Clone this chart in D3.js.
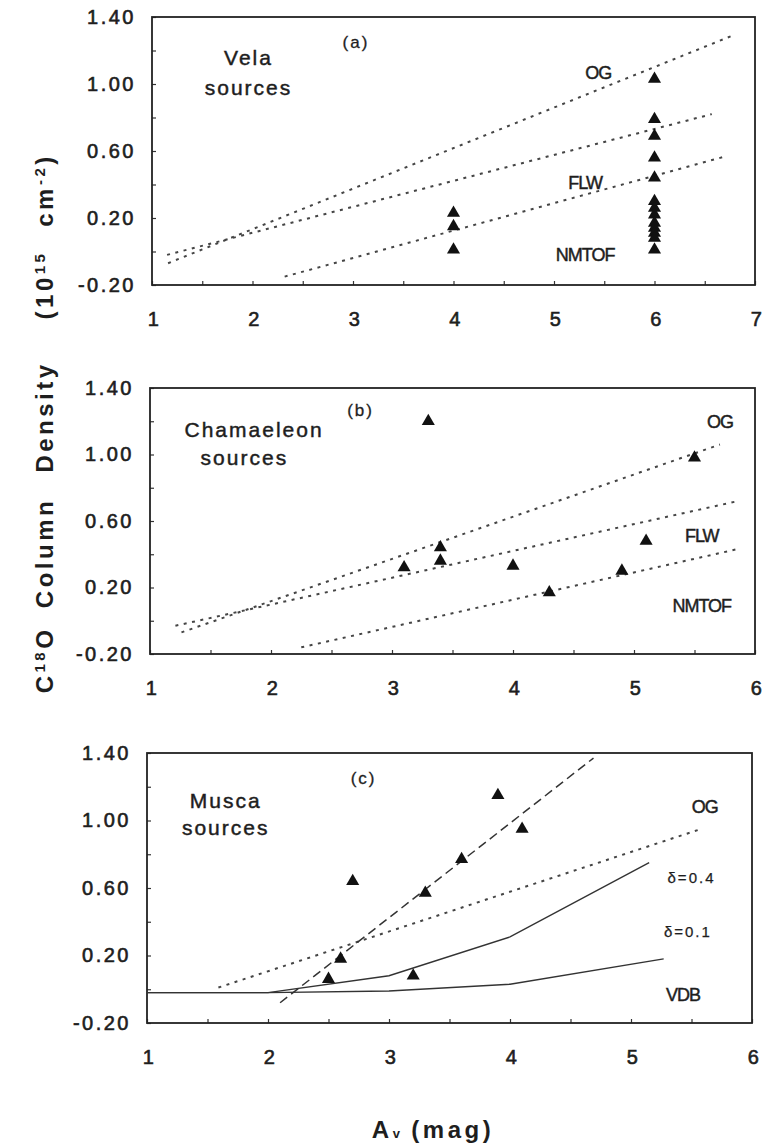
<!DOCTYPE html>
<html>
<head>
<meta charset="utf-8">
<script src="https://cdn.jsdelivr.net/npm/d3@7"></script>
<style>
  body { margin: 0; background: #fff; }
  text { font-family: "Liberation Sans", Arial, sans-serif; fill: #1e1e1e; }
  .tick-label { font-size: 20px; letter-spacing: 2.5px; stroke: #1e1e1e; stroke-width: 0.6px; }
  .tag { font-size: 17px; letter-spacing: 2px; stroke: #1e1e1e; stroke-width: 0.3px; }
  .region { font-size: 21px; letter-spacing: 2px; stroke: #1e1e1e; stroke-width: 0.45px; }
  .model { font-size: 18px; letter-spacing: -1px; stroke: #1e1e1e; stroke-width: 0.45px; }
  .delta { font-size: 15px; letter-spacing: 2px; stroke: #1e1e1e; stroke-width: 0.25px; }
  .axis-title { font-size: 24px; font-weight: bold; letter-spacing: 3.5px; }
</style>
</head>
<body>
<script>
// Define SVG area dimensions
var svgWidth = 767;
var svgHeight = 1145;

// Shared y axis (C18O column density, 1e15 cm-2)
var yTickValues = [-0.2, 0.2, 0.6, 1.0, 1.4];
var yTickLabels = ["-0.20", "0.20", "0.60", "1.00", "1.40"];

// x ticks (Av, mag)
var velaXTicks = [1, 2, 3, 4, 5, 6, 7];
var otherXTicks = [1, 2, 3, 4, 5, 6];

// (a) Vela sources
var velaAv = [4, 4, 4, 6, 6, 6, 6, 6, 6, 6, 6, 6, 6, 6, 6, 6];
var velaN = [0.23, 0.15, 0.01, 1.03, 0.79, 0.69, 0.56, 0.44, 0.30, 0.26, 0.22, 0.17, 0.14, 0.11, 0.08, 0.01];
var velaOGx = [1.16, 6.78], velaOGy = [-0.07, 1.29];
var velaFLWx = [1.15, 6.57], velaFLWy = [-0.02, 0.82];
var velaNMTOFx = [2.32, 6.72], velaNMTOFy = [-0.15, 0.57];

// (b) Chamaeleon sources
var chaAv = [3.1, 3.3, 3.4, 3.4, 4.0, 4.3, 4.9, 5.1, 5.5];
var chaN = [0.32, 1.20, 0.44, 0.36, 0.33, 0.17, 0.30, 0.48, 0.98];
var chaOGx = [1.26, 5.71], chaOGy = [-0.07, 1.06];
var chaFLWx = [1.21, 5.86], chaFLWy = [-0.03, 0.72];
var chaNMTOFx = [2.25, 5.85], chaNMTOFy = [-0.16, 0.43];

// (c) Musca sources
var musAv = [2.5, 2.6, 2.7, 3.2, 3.3, 3.6, 3.9, 4.1];
var musN = [0.06, 0.18, 0.64, 0.08, 0.57, 0.77, 1.15, 0.95];
var musFitx = [2.1, 4.69], musFity = [-0.08, 1.37];
var musOGx = [1.59, 5.58], musOGy = [0.01, 0.95];
var musD04x = [1, 2, 3, 4, 5.15], musD04y = [-0.02, -0.02, 0.08, 0.31, 0.75];
var musD01x = [1, 2, 3, 4, 5.27], musD01y = [-0.02, -0.02, -0.01, 0.03, 0.18];

// Panel layout + what goes in each one
var panels = [
  {
    left: 152, right: 755, top: 17, bottom: 285, xDomain: [1, 7], xTicks: velaXTicks,
    points: d3.zip(velaAv, velaN),
    dotted: [d3.zip(velaOGx, velaOGy), d3.zip(velaFLWx, velaFLWy), d3.zip(velaNMTOFx, velaNMTOFy)],
    dashed: [], solid: [],
    notes: [
      { t: "(a)", x: 3.03, y: 1.25, cls: "tag" },
      { t: "Vela", x: 1.96, y: 1.16, cls: "region" },
      { t: "sources", x: 1.96, y: 0.98, cls: "region" },
      { t: "OG", x: 5.44, y: 1.07, cls: "model" },
      { t: "FLW", x: 5.31, y: 0.41, cls: "model" },
      { t: "NMTOF", x: 5.31, y: -0.02, cls: "model" }
    ]
  },
  {
    left: 150, right: 755, top: 388, bottom: 654, xDomain: [1, 6], xTicks: otherXTicks,
    points: d3.zip(chaAv, chaN),
    dotted: [d3.zip(chaOGx, chaOGy), d3.zip(chaFLWx, chaFLWy), d3.zip(chaNMTOFx, chaNMTOFy)],
    dashed: [], solid: [],
    notes: [
      { t: "(b)", x: 2.74, y: 1.27, cls: "tag" },
      { t: "Chamaeleon", x: 1.86, y: 1.15, cls: "region" },
      { t: "sources", x: 1.78, y: 0.98, cls: "region" },
      { t: "OG", x: 5.71, y: 1.20, cls: "model" },
      { t: "FLW", x: 5.56, y: 0.51, cls: "model" },
      { t: "NMTOF", x: 5.56, y: 0.09, cls: "model" }
    ]
  },
  {
    left: 147, right: 752, top: 753, bottom: 1023, xDomain: [1, 6], xTicks: otherXTicks,
    points: d3.zip(musAv, musN),
    dotted: [d3.zip(musOGx, musOGy)],
    dashed: [d3.zip(musFitx, musFity)],
    solid: [d3.zip(musD04x, musD04y), d3.zip(musD01x, musD01y)],
    notes: [
      { t: "(c)", x: 2.79, y: 1.25, cls: "tag" },
      { t: "Musca", x: 1.65, y: 1.12, cls: "region" },
      { t: "sources", x: 1.65, y: 0.96, cls: "region" },
      { t: "OG", x: 5.61, y: 1.08, cls: "model" },
      { t: "δ=0.4", x: 5.50, y: 0.66, cls: "delta" },
      { t: "δ=0.1", x: 5.47, y: 0.34, cls: "delta" },
      { t: "VDB", x: 5.43, y: -0.03, cls: "model" }
    ]
  }
];

var svg = d3.select("body")
  .append("svg")
  .attr("width", svgWidth)
  .attr("height", svgHeight);

var triangle = d3.symbol().type(d3.symbolTriangle).size(74);

panels.forEach(function(p) {
  var x = d3.scaleLinear().domain(p.xDomain).range([p.left, p.right]);
  var y = d3.scaleLinear().domain([-0.2, 1.4]).range([p.bottom, p.top]);
  var g = svg.append("g");

  // minor inward ticks on left and bottom
  g.append("g")
    .attr("transform", `translate(${p.left},0)`)
    .call(d3.axisLeft(y).tickValues(d3.range(-0.2, 1.41, 0.2)).tickSize(-4).tickFormat(""))
    .call(a => a.select(".domain").remove())
    .selectAll("line").attr("stroke", "#333").attr("stroke-width", 1.2);

  g.append("g")
    .attr("transform", `translate(0,${p.bottom})`)
    .call(d3.axisBottom(x).tickValues(d3.range(p.xDomain[0], p.xDomain[1] + 0.01, 0.5)).tickSize(-4).tickFormat(""))
    .call(a => a.select(".domain").remove())
    .selectAll("line").attr("stroke", "#333").attr("stroke-width", 1.2);

  // tick labels
  g.append("g")
    .attr("transform", `translate(${p.left},0)`)
    .call(d3.axisLeft(y).tickValues(yTickValues).tickFormat((d, i) => yTickLabels[i]).tickSize(0).tickPadding(16))
    .call(a => a.select(".domain").remove())
    .selectAll("text")
    .attr("class", "tick-label");

  g.append("g")
    .attr("transform", `translate(0,${p.bottom})`)
    .call(d3.axisBottom(x).tickValues(p.xTicks).tickFormat(d3.format("d")).tickSize(0).tickPadding(27))
    .call(a => a.select(".domain").remove())
    .selectAll("text")
    .attr("class", "tick-label")
    .attr("dx", "0.1em");

  // frame
  g.append("rect")
    .attr("x", p.left)
    .attr("y", p.top)
    .attr("width", p.right - p.left)
    .attr("height", p.bottom - p.top)
    .attr("fill", "none")
    .attr("stroke", "#222")
    .attr("stroke-width", 1.8);

  var line = d3.line().x(d => x(d[0])).y(d => y(d[1]));

  g.selectAll(".dotted")
    .data(p.dotted)
    .enter()
    .append("path")
    .attr("d", line)
    .attr("fill", "none")
    .attr("stroke", "#454545")
    .attr("stroke-width", 2)
    .attr("stroke-dasharray", "3,5.5");

  g.selectAll(".dashed")
    .data(p.dashed)
    .enter()
    .append("path")
    .attr("d", line)
    .attr("fill", "none")
    .attr("stroke", "#333")
    .attr("stroke-width", 1.5)
    .attr("stroke-dasharray", "9,5");

  g.selectAll(".solid")
    .data(p.solid)
    .enter()
    .append("path")
    .attr("d", line)
    .attr("fill", "none")
    .attr("stroke", "#333")
    .attr("stroke-width", 1.4);

  g.selectAll(".pt")
    .data(p.points)
    .enter()
    .append("path")
    .attr("d", triangle)
    .attr("transform", d => `translate(${x(d[0])},${y(d[1])})`)
    .attr("fill", "#111");

  g.selectAll(".note")
    .data(p.notes)
    .enter()
    .append("text")
    .attr("class", d => d.cls)
    .attr("x", d => x(d.x))
    .attr("y", d => y(d.y))
    .attr("dy", "0.35em")
    .attr("text-anchor", "middle")
    .text(d => d.t);
});

// clear the default axis font settings so the css classes apply
svg.selectAll(".tick text").attr("font-size", null).attr("font-family", null).attr("fill", null);
svg.selectAll(".tick").attr("font-size", null).attr("font-family", null);
svg.selectAll("g[font-size]").attr("font-size", null).attr("font-family", null);

// y axis title, one word at a time (rotated)
var yTitle = svg.append("g")
  .attr("transform", "translate(53,0) rotate(-90)");

function titleWord(parts, centerY) {
  var t = yTitle.append("text")
    .attr("class", "axis-title")
    .attr("x", -centerY)
    .attr("text-anchor", "middle");
  parts.forEach(function(pt) {
    var s = t.append("tspan").text(pt[0]);
    if (pt[1]) s.attr("font-size", 15).attr("baseline-shift", "super");
  });
}
titleWord([["C"], ["18", true], ["O"]], 660);
titleWord([["Column"]], 553);
titleWord([["Density"]], 417);
titleWord([["(10"], ["15", true]], 285);
titleWord([["cm"], ["-2", true], [")"]], 190);

// x axis title
var xTitle = svg.append("text")
  .attr("class", "axis-title")
  .attr("x", 433)
  .attr("y", 1138)
  .attr("text-anchor", "middle");
xTitle.append("tspan").text("A");
xTitle.append("tspan").attr("font-size", 13).text("v");
xTitle.append("tspan").attr("dx", 8).text("(mag)");
</script>
</body>
</html>
